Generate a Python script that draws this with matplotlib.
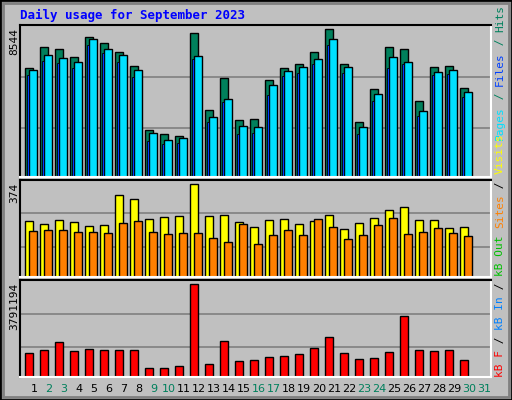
import numpy as np
import matplotlib.pyplot as plt
from matplotlib.patches import Rectangle

days = list(range(1, 32))
weekend = [2, 3, 9, 10, 16, 17, 23, 24, 30, 31]

# values (day 31 has no data)
hits = [6335, 7495, 7379, 6915, 8080, 7728, 7206, 6395, 2726, 2494,
        2378, 8312, 3886, 5742, 3306, 3344, 5587, 6283, 6515, 7211,
        8544, 6515, 3190, 5103, 7495, 7379, 4369, 6341, 6399, 5162]
files = [6219, 7031, 6857, 6644, 7960, 7379, 7031, 6167, 2552, 2146,
         2262, 6973, 3480, 4524, 2958, 2900, 5297, 6109, 6341, 6805,
         7960, 6341, 2900, 4814, 6915, 6683, 3847, 6051, 6167, 4930]
pages = [5928, 6741, 6625, 6335, 7612, 7147, 6683, 5812, 2088, 1914,
         1972, 6799, 3190, 4350, 2494, 2552, 4717, 5819, 5993, 6515,
         7612, 5993, 2494, 4408, 6335, 6515, 3557, 5877, 5935, 4640]
visits = [225, 213, 229, 221, 205, 209, 330, 314, 236, 244,
          248, 374, 248, 252, 221, 201, 229, 236, 213, 225,
          252, 192, 217, 240, 272, 284, 229, 229, 197, 201]
sites = [184, 189, 189, 181, 181, 176, 217, 225, 181, 172,
         176, 176, 156, 140, 213, 132, 168, 189, 168, 233,
         201, 152, 168, 209, 237, 172, 181, 197, 176, 164]
kbin = [968000, 1093000, 1425000, 1052000, 1135000, 1093000, 1093000, 1093000,
        387000, 387000, 470000, 3791194, 512000, 1467000, 636000, 678000,
        802000, 844000, 927000, 1176000, 1633000, 968000, 719000, 761000,
        1010000, 2504000, 1093000, 1052000, 1093000, 678000]

BG = '#C0C0C0'
n = len(hits)
x = np.arange(n)

fig = plt.figure(figsize=(5.12, 4.0), dpi=100, facecolor=BG)
W, H = 512, 400

def box(l, t, r, b):
    return [l / W, 1 - b / H, (r - l) / W, (b - t) / H]

def style(ax, top, grid_fracs):
    ax.set_facecolor(BG)
    ax.set_xlim(0, 471 / 15)
    ax.set_ylim(0, top)
    for f in grid_fracs:
        ax.axhline(f * top, color='#808080', lw=1.2, zorder=0)
    ax.set_xticks([])
    ax.set_yticks([])
    ax.spines['top'].set_color('black')
    ax.spines['left'].set_color('black')
    ax.spines['bottom'].set_color('white')
    ax.spines['right'].set_color('white')
    for s in ax.spines.values():
        s.set_linewidth(1.5)

ek = dict(edgecolor='black', linewidth=1)

# top panel: hits / files / pages
ax1 = fig.add_axes(box(20, 25, 491, 177))
top1 = 8544 * 455 / 442
style(ax1, top1, [148 / 455, 300 / 455])
ax1.bar(x + 0.353, hits, 0.49, align='edge', color='#00805C', **ek)
ax1.bar(x + 0.62, files, 0.49, align='edge', color='#00E0FF', **ek)
ax1.bar(x + 0.49, pages, 0.13, align='edge', color='#0040FF', edgecolor='black', linewidth=0.6)

# middle panel: visits / sites
ax2 = fig.add_axes(box(20, 180, 491, 277))
top2 = 374 * 290 / 277
style(ax2, top2, [91 / 290, 190 / 290])
ax2.bar(x + 0.353, visits, 0.49, align='edge', color='#FFFF00', **ek)
ax2.bar(x + 0.62, sites, 0.49, align='edge', color='#FF8000', **ek)

# bottom panel: kB in
ax3 = fig.add_axes(box(20, 280, 491, 377))
top3 = 3791194 * 287 / 274
style(ax3, top3, [88 / 287, 187 / 287])
ax3.bar(x + 0.353, kbin, 0.49, align='edge', color='#FF0000', **ek)

# day labels
for d in days:
    c = '#00805C' if d in weekend else 'black'
    fig.text((20 + 15 * (d - 1) + 14) / W, 1 - 389 / H, str(d), color=c,
             ha='center', va='center', fontsize=8, family='DejaVu Sans')

# title and max values
fig.text(20 / W, 1 - 15 / H, 'Daily usage for September 2023', color='#0000FF',
         fontsize=9, fontweight='bold', family='DejaVu Sans Mono', va='center')
mono = dict(family='DejaVu Sans Mono', fontsize=8, rotation=90)
fig.text(14 / W, 1 - 28 / H, '8544', ha='center', va='top', **mono)
fig.text(14 / W, 1 - 183 / H, '374', ha='center', va='top', **mono)
fig.text(14 / W, 1 - 283 / H, '3791194', ha='center', va='top', **mono)

# right side legend text, stacked bottom to top using measured extents
renderer = fig.canvas.get_renderer()

def vlabel(parts, ybottom):
    y = ybottom
    for txt, col in parts:
        t = fig.text(500 / W, 1 - y / H, txt, color=col, ha='center', va='bottom', **mono)
        ext = t.get_window_extent(renderer)
        y -= ext.height

vlabel([('Pages', '#00E0FF'), (' / ', '#00805C'), ('Files', '#0040FF'),
        (' / ', '#00805C'), ('Hits', '#00805C')], 140)
vlabel([('kB F', '#FF0000'), (' / ', 'black'), ('kB In', '#0080FF'), (' / ', 'black'),
        ('kB Out', '#00C000'), (' ', 'black'), ('Sites', '#FF8000'),
        (' / ', 'black'), ('Visits', '#FFFF00')], 377)

# outer frame
fig.patches.append(Rectangle((0, 0), 1, 1, transform=fig.transFigure, fill=False,
                             edgecolor='black', lw=2))
fig.patches.append(Rectangle((3 / W, 3 / H), 1 - 6 / W, 1 - 6 / H, transform=fig.transFigure,
                             fill=False, edgecolor='#808080', lw=2))

fig.savefig('out.png', dpi=100, facecolor=BG)
